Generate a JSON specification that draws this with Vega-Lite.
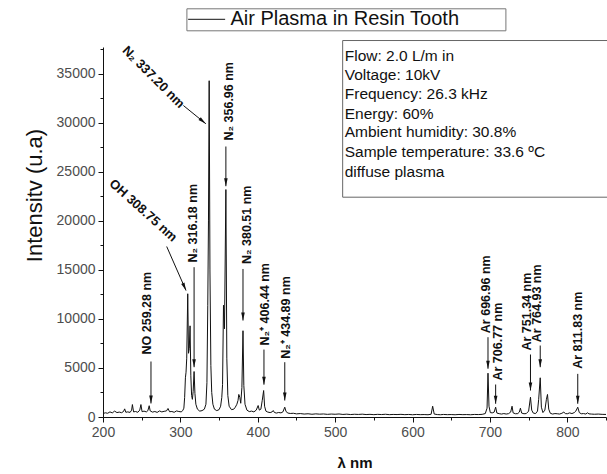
{
  "$schema": "https://vega.github.io/schema/vega-lite/v6.json",
  "width": 503,
  "height": 370,
  "autosize": {"type": "none"},
  "padding": {"left": 103, "top": 47, "right": 1, "bottom": 57},
  "background": "white",
  "config": {
    "view": {"stroke": null},
    "font": "Liberation Sans",
    "axis": {"grid": false, "domainColor": "#111", "tickColor": "#111", "labelFont": "Liberation Sans", "titleFont": "Liberation Sans"}
  },
  "datasets": {
    "spectrum": [
      {"nm":200,"I":350},{"nm":203,"I":430},{"nm":206,"I":380},{"nm":209,"I":520},{"nm":212,"I":420},{"nm":215,"I":600},{"nm":218,"I":450},{"nm":221,"I":500},{"nm":224,"I":440},{"nm":226.5,"I":560},{"nm":228,"I":830},{"nm":229.5,"I":480},{"nm":232,"I":520},{"nm":235,"I":470},{"nm":237,"I":700},{"nm":238,"I":1270},{"nm":239.5,"I":520},{"nm":242,"I":560},{"nm":245,"I":480},{"nm":247.5,"I":700},{"nm":249,"I":1270},{"nm":250.5,"I":540},{"nm":253,"I":600},{"nm":256,"I":520},{"nm":258,"I":650},{"nm":259.7,"I":1150},{"nm":261,"I":620},{"nm":264,"I":500},{"nm":267,"I":560},{"nm":270,"I":470},{"nm":273,"I":620},{"nm":276,"I":520},{"nm":279,"I":580},{"nm":282,"I":620},{"nm":284,"I":870},{"nm":286,"I":540},{"nm":289,"I":560},{"nm":292,"I":480},{"nm":295,"I":620},{"nm":298,"I":560},{"nm":301,"I":520},{"nm":303,"I":650},{"nm":304.5,"I":900},{"nm":305.5,"I":2000},{"nm":306.5,"I":4000},{"nm":307.3,"I":4570},{"nm":308.2,"I":6000},{"nm":309.5,"I":12570},{"nm":310.5,"I":6500},{"nm":311.5,"I":7000},{"nm":312.5,"I":9300},{"nm":313.5,"I":4200},{"nm":314.5,"I":2200},{"nm":315.5,"I":1800},{"nm":316.5,"I":2600},{"nm":317.7,"I":4640},{"nm":318.8,"I":2400},{"nm":320,"I":1300},{"nm":322,"I":800},{"nm":325,"I":600},{"nm":328,"I":650},{"nm":331,"I":800},{"nm":333,"I":1300},{"nm":334.3,"I":3500},{"nm":335.4,"I":11400},{"nm":336.3,"I":20000},{"nm":337.2,"I":34300},{"nm":338.2,"I":15000},{"nm":339.4,"I":5250},{"nm":340.5,"I":2500},{"nm":342,"I":1300},{"nm":344,"I":800},{"nm":347,"I":650},{"nm":350,"I":750},{"nm":352,"I":1100},{"nm":353.5,"I":2000},{"nm":354.5,"I":3300},{"nm":355.7,"I":11400},{"nm":357,"I":9000},{"nm":358.8,"I":23200},{"nm":360,"I":6000},{"nm":361.3,"I":2200},{"nm":363,"I":1100},{"nm":366,"I":750},{"nm":369,"I":800},{"nm":371,"I":1000},{"nm":373,"I":1300},{"nm":374.5,"I":1700},{"nm":375.5,"I":2300},{"nm":376.8,"I":2000},{"nm":378,"I":1400},{"nm":379.5,"I":3000},{"nm":380.9,"I":8800},{"nm":382,"I":3200},{"nm":383.5,"I":1300},{"nm":386,"I":700},{"nm":389,"I":550},{"nm":392,"I":600},{"nm":395,"I":520},{"nm":398,"I":700},{"nm":400.5,"I":1170},{"nm":402,"I":700},{"nm":404,"I":800},{"nm":405.8,"I":1700},{"nm":407.6,"I":2700},{"nm":408.8,"I":1100},{"nm":410.5,"I":600},{"nm":413,"I":500},{"nm":416,"I":450},{"nm":418.5,"I":520},{"nm":420,"I":660},{"nm":421.5,"I":460},{"nm":424,"I":400},{"nm":427,"I":460},{"nm":430,"I":420},{"nm":432.5,"I":520},{"nm":434.9,"I":1000},{"nm":436.5,"I":560},{"nm":439,"I":400},{"nm":442,"I":360},{"nm":446,"I":380},{"nm":450,"I":320},{"nm":455,"I":350},{"nm":460,"I":300},{"nm":465,"I":330},{"nm":470,"I":280},{"nm":475,"I":320},{"nm":480,"I":290},{"nm":485,"I":310},{"nm":490,"I":270},{"nm":495,"I":300},{"nm":500,"I":280},{"nm":505,"I":310},{"nm":510,"I":260},{"nm":515,"I":290},{"nm":520,"I":250},{"nm":525,"I":280},{"nm":530,"I":260},{"nm":535,"I":290},{"nm":540,"I":250},{"nm":545,"I":270},{"nm":550,"I":240},{"nm":555,"I":270},{"nm":560,"I":250},{"nm":565,"I":280},{"nm":570,"I":240},{"nm":575,"I":260},{"nm":580,"I":250},{"nm":585,"I":270},{"nm":590,"I":240},{"nm":595,"I":260},{"nm":600,"I":230},{"nm":605,"I":260},{"nm":610,"I":240},{"nm":615,"I":250},{"nm":620,"I":230},{"nm":624,"I":280},{"nm":626,"I":1100},{"nm":628,"I":300},{"nm":632,"I":250},{"nm":636,"I":230},{"nm":640,"I":260},{"nm":645,"I":240},{"nm":650,"I":250},{"nm":655,"I":230},{"nm":660,"I":260},{"nm":665,"I":240},{"nm":670,"I":250},{"nm":675,"I":230},{"nm":680,"I":260},{"nm":685,"I":250},{"nm":690,"I":270},{"nm":694,"I":350},{"nm":696.3,"I":900},{"nm":697.5,"I":4470},{"nm":698.8,"I":1100},{"nm":700.5,"I":450},{"nm":703,"I":420},{"nm":705.5,"I":500},{"nm":707.4,"I":1000},{"nm":709,"I":400},{"nm":712,"I":340},{"nm":715,"I":300},{"nm":718,"I":350},{"nm":721,"I":300},{"nm":724,"I":340},{"nm":726.8,"I":500},{"nm":728.6,"I":1100},{"nm":730,"I":420},{"nm":733,"I":330},{"nm":736,"I":350},{"nm":738,"I":500},{"nm":739.4,"I":900},{"nm":741,"I":400},{"nm":744,"I":330},{"nm":747,"I":350},{"nm":750,"I":600},{"nm":752.4,"I":2020},{"nm":754,"I":700},{"nm":756,"I":400},{"nm":759,"I":350},{"nm":761.5,"I":600},{"nm":763,"I":1800},{"nm":765,"I":4000},{"nm":766.5,"I":1000},{"nm":768.5,"I":450},{"nm":771,"I":700},{"nm":773,"I":1800},{"nm":774.4,"I":2300},{"nm":776,"I":800},{"nm":778,"I":380},{"nm":781,"I":300},{"nm":784,"I":350},{"nm":787,"I":330},{"nm":790,"I":300},{"nm":793,"I":380},{"nm":795.5,"I":500},{"nm":797.5,"I":350},{"nm":800,"I":330},{"nm":803,"I":420},{"nm":806,"I":350},{"nm":809,"I":450},{"nm":811,"I":600},{"nm":813.5,"I":1000},{"nm":815.5,"I":450},{"nm":818,"I":330},{"nm":821,"I":350},{"nm":824,"I":300},{"nm":826,"I":430},{"nm":828,"I":320},{"nm":831,"I":300},{"nm":835,"I":280},{"nm":840,"I":300},{"nm":845,"I":270},{"nm":850,"I":260}
    ],
    "vlabels": [
      {"label":"NO 259.28 nm","nm":257.3,"I":6375},
      {"label":"N₂ 316.18 nm","nm":316.6,"I":15760},
      {"label":"N₂ 356.96 nm","nm":362.5,"I":28200},
      {"label":"N₂ 380.51 nm","nm":386.6,"I":15600},
      {"label":"N₂⁺ 406.44 nm","nm":409.5,"I":7290},
      {"label":"N₂⁺ 434.89 nm","nm":436.1,"I":5940},
      {"label":"Ar 696.96 nm","nm":694.6,"I":8550},
      {"label":"Ar 706.77 nm","nm":710.4,"I":3720},
      {"label":"Ar 751.34 nm","nm":747.8,"I":6780},
      {"label":"Ar 764.93 nm","nm":760.8,"I":7630},
      {"label":"Ar 811.83 nm","nm":813.6,"I":4920}
    ],
    "dlabels": [
      {"label":"N₂ 337.20 nm","nm":265.1,"I":34660,"angle":45},
      {"label":"OH 308.75 nm","nm":251.9,"I":21060,"angle":42}
    ],
    "arrows": [
      {"nm":262,"I":5660,"nm2":262,"I2":1380,"angle":0},
      {"nm":317.7,"I":15280,"nm2":317.7,"I2":5080,"angle":0},
      {"nm":358.8,"I":27590,"nm2":358.8,"I2":23540,"angle":0},
      {"nm":380.9,"I":15100,"nm2":380.9,"I2":9840,"angle":0},
      {"nm":408,"I":6880,"nm2":408,"I2":3300,"angle":0},
      {"nm":434.9,"I":5590,"nm2":434.9,"I2":1680,"angle":0},
      {"nm":697.5,"I":8140,"nm2":697.5,"I2":4920,"angle":0},
      {"nm":707.4,"I":3315,"nm2":707.4,"I2":1350,"angle":0},
      {"nm":752.4,"I":6375,"nm2":752.4,"I2":2700,"angle":0},
      {"nm":765,"I":7290,"nm2":765,"I2":5080,"angle":0},
      {"nm":813.5,"I":4400,"nm2":813.5,"I2":1350,"angle":0},
      {"nm":303.9,"I":31770,"nm2":332.9,"I2":29910,"angle":-50.7},
      {"nm":282.3,"I":17390,"nm2":307.3,"I2":12900,"angle":-23.7}
    ],
    "box": [
      {"nm":509.7,"nm2":855,"I":38400,"I2":22420}
    ],
    "info": [
      {"line":"Flow: 2.0 L/m in","nm":512.4,"I":36870},
      {"line":"Voltage: 10kV","nm":512.4,"I":34935},
      {"line":"Frequency: 26.3 kHz","nm":512.4,"I":32970},
      {"line":"Energy: 60%","nm":512.4,"I":30930},
      {"line":"Ambient humidity: 30.8%","nm":512.4,"I":29050},
      {"line":"Sample temperature: 33.6 ºC","nm":512.4,"I":27010},
      {"line":"diffuse plasma","nm":512.4,"I":24970}
    ]
  },
  "encoding": {
    "x": {
      "field": "nm", "type": "quantitative",
      "scale": {"domain": [200, 850], "nice": false, "zero": false},
      "axis": {
        "title": "λ nm", "titleFontSize": 15, "titleFontWeight": "bold", "titleColor": "#111", "titlePadding": 16,
        "values": [200,250,300,350,400,450,500,550,600,650,700,750,800,850],
        "labelExpr": "datum.value % 100 === 0 ? datum.label : ''",
        "format": "d", "labelFontSize": 14, "labelColor": "#4d4d4d", "labelPadding": 3,
        "tickSize": {"condition": {"test": "datum.value % 100 === 0", "value": 5}, "value": 3},
        "labelFlush": false
      }
    },
    "y": {
      "field": "I", "type": "quantitative",
      "scale": {"domain": [0, 37740], "nice": false},
      "axis": {
        "title": "Intensitv (u.a)", "titleFontSize": 22, "titleFontWeight": "normal", "titleColor": "#111", "titlePadding": 10, "titleY": 148,
        "values": [0,2500,5000,7500,10000,12500,15000,17500,20000,22500,25000,27500,30000,32500,35000,37500],
        "labelExpr": "datum.value % 5000 === 0 ? datum.label : ''",
        "format": "d", "labelFontSize": 14, "labelColor": "#4d4d4d", "labelPadding": 3,
        "tickSize": {"condition": {"test": "datum.value % 5000 === 0", "value": 5}, "value": 3}
      }
    }
  },
  "layer": [
    {
      "data": {"name": "box"},
      "mark": {"type": "rect", "fill": "white", "stroke": "#666", "strokeWidth": 1},
      "encoding": {"x2": {"field": "nm2"}, "y2": {"field": "I2"}}
    },
    {
      "data": {"name": "spectrum"},
      "mark": {"type": "line", "strokeWidth": 1},
      "encoding": {
        "color": {
          "datum": "Air Plasma in Resin Tooth",
          "scale": {"range": ["#111111"]},
          "legend": {
            "orient": "none", "legendX": 83.4, "legendY": -38.7, "title": null,
            "symbolType": "M-1,0L3,0", "symbolSize": 342, "symbolStrokeWidth": 1, "symbolStrokeColor": "#111", "symbolFillColor": "transparent",
            "labelFontSize": 20, "labelFont": "Liberation Sans", "labelColor": "#111", "labelOffset": 23, "labelLimit": 500,
            "strokeColor": "#777", "padding": 1,
            "labelExpr": "datum.label + '\u00a0\u00a0\u00a0\u00a0\u00a0\u00a0\u00a0\u00a0\u200b'"
          }
        }
      }
    },
    {
      "data": {"name": "arrows"},
      "mark": {"type": "rule", "color": "#111", "strokeWidth": 1},
      "encoding": {"x2": {"field": "nm2"}, "y2": {"field": "I2"}}
    },
    {
      "data": {"name": "arrows"},
      "mark": {"type": "point", "shape": "M0,0L-0.45,-2L0.45,-2Z", "filled": true, "color": "#111", "size": 64, "opacity": 1, "strokeWidth": 0},
      "encoding": {
        "x": {"field": "nm2", "type": "quantitative"},
        "y": {"field": "I2", "type": "quantitative"},
        "angle": {"field": "angle", "type": "quantitative", "scale": null}
      }
    },
    {
      "data": {"name": "vlabels"},
      "mark": {"type": "text", "angle": 270, "align": "left", "baseline": "middle", "fontSize": 12.5, "fontWeight": "bold", "color": "#111", "font": "Liberation Sans"},
      "encoding": {"text": {"field": "label"}}
    },
    {
      "data": {"name": "dlabels"},
      "mark": {"type": "text", "align": "center", "baseline": "middle", "fontSize": 13, "fontWeight": "bold", "color": "#111", "font": "Liberation Sans"},
      "encoding": {"text": {"field": "label"}, "angle": {"field": "angle", "type": "quantitative", "scale": null}}
    },
    {
      "data": {"name": "info"},
      "mark": {"type": "text", "align": "left", "baseline": "middle", "fontSize": 15.5, "color": "#111", "font": "Liberation Sans"},
      "encoding": {"text": {"field": "line"}}
    }
  ]
}
